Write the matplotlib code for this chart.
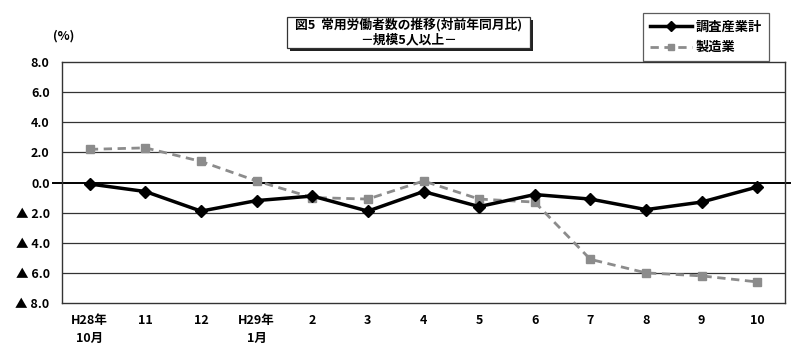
import numpy as np
import matplotlib.pyplot as plt
from matplotlib.patches import Rectangle
from matplotlib.lines import Line2D

plt.rcParams['font.family'] = ['Noto Sans CJK JP', 'DejaVu Sans']
plt.rcParams['font.weight'] = 'bold'

months = ["H28年\n10月", "11", "12", "H29年\n1月", "2", "3", "4", "5", "6", "7", "8", "9", "10"]
total = [-0.1, -0.6, -1.9, -1.2, -0.9, -1.9, -0.6, -1.6, -0.8, -1.1, -1.8, -1.3, -0.3]
manuf = [2.2, 2.3, 1.4, 0.1, -1.0, -1.1, 0.1, -1.1, -1.3, -5.1, -6.0, -6.2, -6.6]
yticks = [8, 6, 4, 2, 0, -2, -4, -6, -8]

W, H = 800, 351
fig = plt.figure(figsize=(8, 3.51), dpi=100)
ax = fig.add_axes([62 / W, 1 - 303 / H, 723 / W, 241 / H])

x = np.arange(len(months))
ax.plot(x, manuf, ls=(0, (3, 2)), color='#8c8c8c', lw=2, marker='s', ms=6,
        mfc='#8c8c8c', mec='#8c8c8c', zorder=3)
ax.plot(x, total, color='black', lw=2.5, marker='D', ms=6.5, zorder=4)

for v in yticks:
    if v in (8, -8, 0):
        continue
    ax.axhline(v, color='#333333', lw=0.9, zorder=1)
ax.axhline(0, xmin=-0.012, xmax=1.007, color='black', lw=1.4, clip_on=False, zorder=2)

ax.set_xlim(-0.5, len(months) - 0.5)
ax.set_ylim(-8, 8)
ax.set_yticks(yticks)
ax.set_yticklabels([f"{v:.1f}" if v >= 0 else f"▲ {abs(v):.1f}" for v in yticks],
                   fontsize=9, fontweight='bold')
ax.set_xticks(x)
ax.set_xticklabels(months, fontsize=9, fontweight='bold', linespacing=1.5, va='top')
ax.tick_params(axis='both', length=0)
ax.tick_params(axis='y', pad=9)
ax.tick_params(axis='x', pad=8)
for s in ax.spines.values():
    s.set_color('#333333')
    s.set_linewidth(1)

fig.text(53 / W, 1 - 36 / H, "(%)", fontsize=9, fontweight='bold', ha='left', va='center')

# title box with shadow
bx, by, bw, bh = 287, 17, 243, 31
fig.patches.append(Rectangle(((bx + 3) / W, 1 - (by + bh + 3) / H), bw / W, bh / H,
                             transform=fig.transFigure, facecolor='#222222', edgecolor='none'))
fig.patches.append(Rectangle((bx / W, 1 - (by + bh) / H), bw / W, bh / H,
                             transform=fig.transFigure, facecolor='white', edgecolor='#333333', lw=0.9))
fig.text((bx + bw / 2) / W, 1 - 25 / H, "図5  常用労働者数の推移(対前年同月比)",
         fontsize=9.2, fontweight='bold', ha='center', va='center')
fig.text((bx + bw / 2) / W, 1 - 40 / H, "－規模5人以上－",
         fontsize=9.2, fontweight='bold', ha='center', va='center')

# legend
handles = [Line2D([], [], color='black', lw=2.5, marker='D', ms=5),
           Line2D([], [], color='#8c8c8c', lw=2, ls=(0, (3, 2)), marker='s', ms=5)]
leg = fig.legend(handles, ["調査産業計", "製造業"], loc='upper left',
                 bbox_to_anchor=(643 / W, 1 - 13 / H), fancybox=False, frameon=True,
                 prop={'size': 9.5, 'weight': 'bold'}, handlelength=3.2, handletextpad=0.3,
                 borderpad=0.5, labelspacing=0.5, borderaxespad=0)
leg.get_frame().set_edgecolor('#333333')
leg.get_frame().set_linewidth(0.9)

fig.savefig("out.png", dpi=100)
